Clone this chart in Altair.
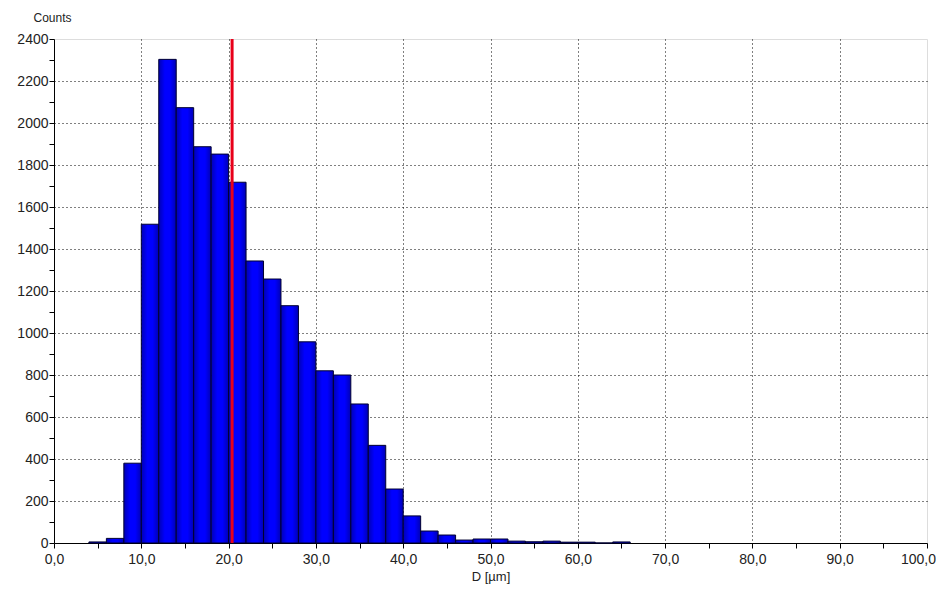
import altair as alt
import pandas as pd

# Histogram bins (left edges, µm) and counts
bin_start = [4, 6, 8, 10, 12, 14, 16, 18, 20, 22, 24, 26, 28, 30, 32, 34, 36, 38,
             40, 42, 44, 46, 48, 50, 52, 54, 56, 58, 60, 62, 64]
counts = [5, 22, 380, 1518, 2303, 2073, 1887, 1852, 1718, 1343, 1257, 1130, 958, 820,
          800, 662, 465, 257, 129, 57, 38, 14, 19, 19, 9, 6, 9, 4, 4, 0, 5]
bin_width = 2
mean_d = [20.4]

x_ticks = list(range(0, 101, 5))
y_ticks = list(range(0, 2401, 100))

df = pd.DataFrame({"start": bin_start, "count": counts})
df["end"] = df["start"] + bin_width
mean_df = pd.DataFrame({"d": mean_d})

FONT = "Liberation Sans"

x_scale = alt.Scale(domain=[0, 100], nice=False, zero=False)
y_scale = alt.Scale(domain=[0, 2400], nice=False)

x_axis = alt.Axis(
    values=x_ticks,
    labelExpr="datum.value % 10 == 0 ? replace(format(datum.value, '.1f'), '.', ',') : ''",
    labelOffset={"condition": {"test": "datum.value == 100", "value": -9}, "value": 0},
    title="D [µm]",
    grid=True,
    gridColor="#000000",
    gridDash=[1, 3],
    gridOpacity={"condition": {"test": "datum.value % 10 == 0 && datum.value > 0 && datum.value < 100", "value": 1}, "value": 0},
    tickColor="#000000",
    tickSize=5,
    domainColor="#000000",
    labelFont=FONT,
    labelFontSize=14,
    labelColor="#222222",
    labelPadding=4,
    titleFont=FONT,
    titleFontSize=13,
    titleFontWeight="normal",
    titleColor="#222222",
    titlePadding=4,
    labelFlush=False,
    labelOverlap=False,
)

y_axis = alt.Axis(
    values=y_ticks,
    labelExpr="datum.value % 200 == 0 ? format(datum.value, 'd') : ''",
    title="Counts",
    titleAngle=0,
    titleAlign="center",
    titleBaseline="middle",
    titleX=-2,
    titleY=-22,
    grid=True,
    gridColor="#000000",
    gridDash=[1, 3],
    gridOpacity={"condition": {"test": "datum.value % 200 == 0 && datum.value > 0 && datum.value < 2400", "value": 1}, "value": 0},
    tickColor="#000000",
    tickSize=5,
    domainColor="#000000",
    labelFont=FONT,
    labelFontSize=14,
    labelColor="#222222",
    labelPadding=1,
    titleFont=FONT,
    titleFontSize=12,
    titleFontWeight="normal",
    titleColor="#222222",
    labelFlush=False,
    labelOverlap=False,
)

bar_fill = {
    "gradient": "linear",
    "x1": 0, "x2": 1, "y1": 0, "y2": 0,
    "stops": [
        {"offset": 0, "color": "#0000b4"},
        {"offset": 0.35, "color": "#0000ff"},
        {"offset": 0.65, "color": "#0000ff"},
        {"offset": 1, "color": "#0000b4"},
    ],
}

bars = alt.Chart(df).mark_rect(
    fill=bar_fill, stroke="#000030", strokeWidth=1
).encode(
    x=alt.X("start:Q", scale=x_scale, axis=x_axis),
    x2="end:Q",
    y=alt.Y("count:Q", scale=y_scale, axis=y_axis),
    y2=alt.datum(0),
)

mean_line = alt.Chart(mean_df).mark_rule(color="#e8001a", strokeWidth=3).encode(
    x=alt.X("d:Q", scale=x_scale),
)

chart = alt.layer(bars, mean_line).properties(
    width=873,
    height=504,
    autosize=alt.AutoSizeParams(type="none"),
    padding={"left": 46, "top": 31, "right": 9, "bottom": 41},
).configure_view(
    stroke="#000000", strokeWidth=1
).configure(background="#ffffff")

chart.save("out.html", embed_options={"renderer": "svg", "actions": False})
